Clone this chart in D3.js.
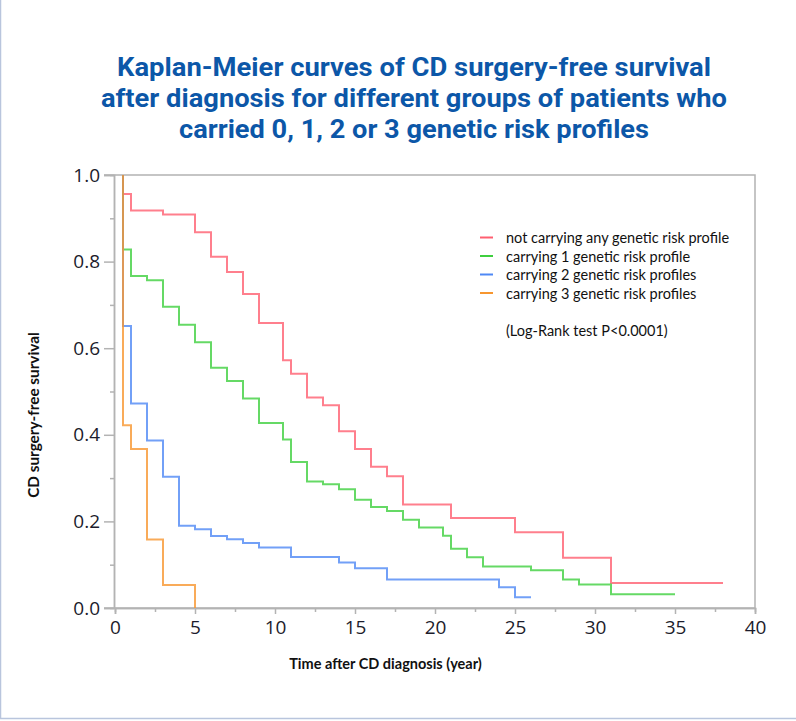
<!DOCTYPE html>
<html>
<head>
<meta charset="utf-8">
<script src="https://cdn.jsdelivr.net/npm/d3@7"></script>
<style>
  body { margin: 0; background: #fff; }
  svg { display: block; }
</style>
</head>
<body>
<svg id="chart"></svg>
<script>
// step data: time (years) and survival after each step
const groupNames = ["not carrying any genetic risk profile", "carrying 1 genetic risk profile",
    "carrying 2 genetic risk profiles", "carrying 3 genetic risk profiles"];
const groupColors = ["#ff5f70", "#3fcf3f", "#4f88f5", "#f7962f"];

const times0 = [0.5, 0.5, 1, 3, 5, 6, 7, 8, 9, 10.5, 11, 12, 13, 14, 15, 16, 17, 18, 21, 25, 28, 31, 38];
const surv0 = [1.0, 0.956, 0.918, 0.909, 0.868, 0.811, 0.776, 0.725, 0.658, 0.572, 0.541, 0.486, 0.468,
    0.408, 0.367, 0.326, 0.304, 0.239, 0.208, 0.175, 0.116, 0.058, 0.058];

const times1 = [0.5, 0.5, 1, 2, 3, 4, 5, 6, 7, 8, 9, 10.5, 11, 12, 13, 14, 15, 16, 17, 18, 19, 20.5, 21, 22,
    23, 26, 28, 29, 31, 35];
const surv1 = [1.0, 0.828, 0.767, 0.757, 0.696, 0.654, 0.614, 0.555, 0.524, 0.484, 0.427, 0.389, 0.337,
    0.292, 0.286, 0.274, 0.250, 0.233, 0.224, 0.204, 0.186, 0.167, 0.137, 0.117, 0.096, 0.087, 0.066,
    0.054, 0.032, 0.032];

const times2 = [0.5, 0.5, 1, 2, 3, 4, 5, 6, 7, 8, 9, 11, 14, 15, 17, 24, 25, 26];
const surv2 = [1.0, 0.651, 0.472, 0.387, 0.303, 0.190, 0.182, 0.166, 0.159, 0.150, 0.140, 0.118, 0.105,
    0.092, 0.066, 0.048, 0.025, 0.025];

const times3 = [0.5, 0.5, 1, 2, 3, 5];
const surv3 = [1.0, 0.422, 0.367, 0.158, 0.053, 0.0];

const xTicks = [0, 5, 10, 15, 20, 25, 30, 35, 40];
const yTicks = [0, 0.2, 0.4, 0.6, 0.8, 1.0];

const titleLines = ["Kaplan-Meier curves of CD surgery-free survival",
    "after diagnosis for different groups of patients who",
    "carried 0, 1, 2 or 3 genetic risk profiles"];
const titleWidths = [594, 626, 470];

class KMChart {
    constructor(_config, _data) {
        this.config = {
            parentElement: _config.parentElement,
            containerWidth: 796,
            containerHeight: 721,
            plot: {left: 115, right: 755, top: 175, bottom: 608}
        };
        this.data = _data;
        this.initVis();
    }

    initVis() {
        let vis = this;
        const p = vis.config.plot;

        vis.svg = d3.select(vis.config.parentElement)
            .attr("width", vis.config.containerWidth)
            .attr("height", vis.config.containerHeight);

        // thin frame at left and bottom of the picture
        vis.svg.append("path")
            .attr("d", `M0.5,0 V718.5 H${vis.config.containerWidth}`)
            .attr("fill", "none")
            .attr("stroke", "#b9c5dd")
            .attr("stroke-width", 1.5);

        vis.xScale = d3.scaleLinear().domain([0, 40]).range([p.left, p.right]);
        vis.yScale = d3.scaleLinear().domain([0, 1]).range([p.bottom, p.top]);

        // title
        vis.svg.append("g").selectAll("text")
            .data(titleLines)
            .join("text")
            .attr("x", 414)
            .attr("y", (d, i) => 76 + i * 31)
            .attr("text-anchor", "middle")
            .attr("textLength", (d, i) => titleWidths[i])
            .attr("lengthAdjust", "spacingAndGlyphs")
            .attr("font-family", "Roboto, 'Liberation Sans', sans-serif")
            .attr("font-weight", "bold")
            .attr("font-size", 25)
            .attr("fill", "#0c57a8")
            .text(d => d);

        vis.axisG = vis.svg.append("g");
        vis.chart = vis.svg.append("g");
        vis.legend = vis.svg.append("g");
        vis.renderVis();
    }

    renderVis() {
        let vis = this;
        const p = vis.config.plot;
        const axisColor = "#b3b3b3";

        // frame top and right
        vis.axisG.append("path")
            .attr("d", `M${p.left - 11},${p.top} H${p.right} V${p.bottom}`)
            .attr("fill", "none")
            .attr("stroke", axisColor)
            .attr("stroke-width", 1.5);

        // y axis
        const yAxis = vis.axisG.append("g").attr("transform", `translate(${p.left - 1},0)`);
        yAxis.call(d3.axisLeft(vis.yScale).tickValues(d3.range(0.1, 1, 0.2)).tickSize(4).tickFormat(""));
        yAxis.append("g").call(d3.axisLeft(vis.yScale).tickValues(yTicks).tickSize(10).tickPadding(4)
            .tickFormat(d3.format(".1f")));

        // x axis
        const xAxis = vis.axisG.append("g").attr("transform", `translate(0,${p.bottom})`);
        xAxis.call(d3.axisBottom(vis.xScale).tickValues(d3.range(2.5, 40, 5)).tickSize(4).tickFormat(""));
        xAxis.append("g").call(d3.axisBottom(vis.xScale).tickValues(xTicks).tickSize(6).tickPadding(7));
        xAxis.append("line")
            .attr("x1", p.left - 11).attr("x2", p.right)
            .attr("stroke", axisColor).attr("stroke-width", 1.5);

        vis.axisG.selectAll(".domain").attr("stroke", axisColor).attr("stroke-width", 1.5);
        vis.axisG.selectAll(".tick line").attr("stroke", axisColor).attr("stroke-width", 1.5);
        vis.axisG.selectAll(".tick text")
            .attr("font-family", "'Open Sans', sans-serif")
            .attr("font-size", 19)
            .attr("fill", "#1c1c2c");

        // axis titles
        vis.svg.append("text")
            .attr("x", 385.5).attr("y", 669)
            .attr("text-anchor", "middle")
            .attr("font-family", "Lato, sans-serif")
            .attr("font-weight", "bold")
            .attr("font-size", 14.5)
            .attr("fill", "#111")
            .text("Time after CD diagnosis (year)");
        vis.svg.append("text")
            .attr("transform", "translate(39,415) rotate(-90)")
            .attr("text-anchor", "middle")
            .attr("font-family", "Lato, sans-serif")
            .attr("font-weight", "bold")
            .attr("font-size", 15.3)
            .attr("fill", "#111")
            .text("CD surgery-free survival");

        // survival curves
        const line = d3.line()
            .x(d => vis.xScale(d[0]))
            .y(d => vis.yScale(d[1]))
            .curve(d3.curveStepAfter);

        vis.chart.selectAll("path")
            .data(vis.data)
            .join("path")
            .attr("d", d => line(d.times.map((t, i) => [t, d.surv[i]])))
            .attr("fill", "none")
            .attr("stroke", d => d.color)
            .attr("stroke-width", 2)
            .attr("stroke-opacity", 0.8);

        // legend
        const rows = vis.legend.selectAll("g")
            .data(vis.data)
            .join("g")
            .attr("transform", (d, i) => `translate(480,${243 + i * 18.5})`);
        rows.append("line")
            .attr("x1", 0).attr("x2", 13)
            .attr("y1", -5.5).attr("y2", -5.5)
            .attr("stroke", d => d.color)
            .attr("stroke-width", 2);
        rows.append("text")
            .attr("x", 26)
            .attr("font-family", "Lato, sans-serif")
            .attr("font-size", 14.5)
            .attr("fill", "#111")
            .text(d => d.name);
        vis.legend.append("text")
            .attr("x", 506).attr("y", 336)
            .attr("font-family", "Lato, sans-serif")
            .attr("font-size", 14.5)
            .attr("fill", "#111")
            .text("(Log-Rank test P<0.0001)");
    }
}

const groups = [
    {name: groupNames[0], color: groupColors[0], times: times0, surv: surv0},
    {name: groupNames[1], color: groupColors[1], times: times1, surv: surv1},
    {name: groupNames[2], color: groupColors[2], times: times2, surv: surv2},
    {name: groupNames[3], color: groupColors[3], times: times3, surv: surv3}
];

new KMChart({parentElement: "#chart"}, groups);
</script>
</body>
</html>
